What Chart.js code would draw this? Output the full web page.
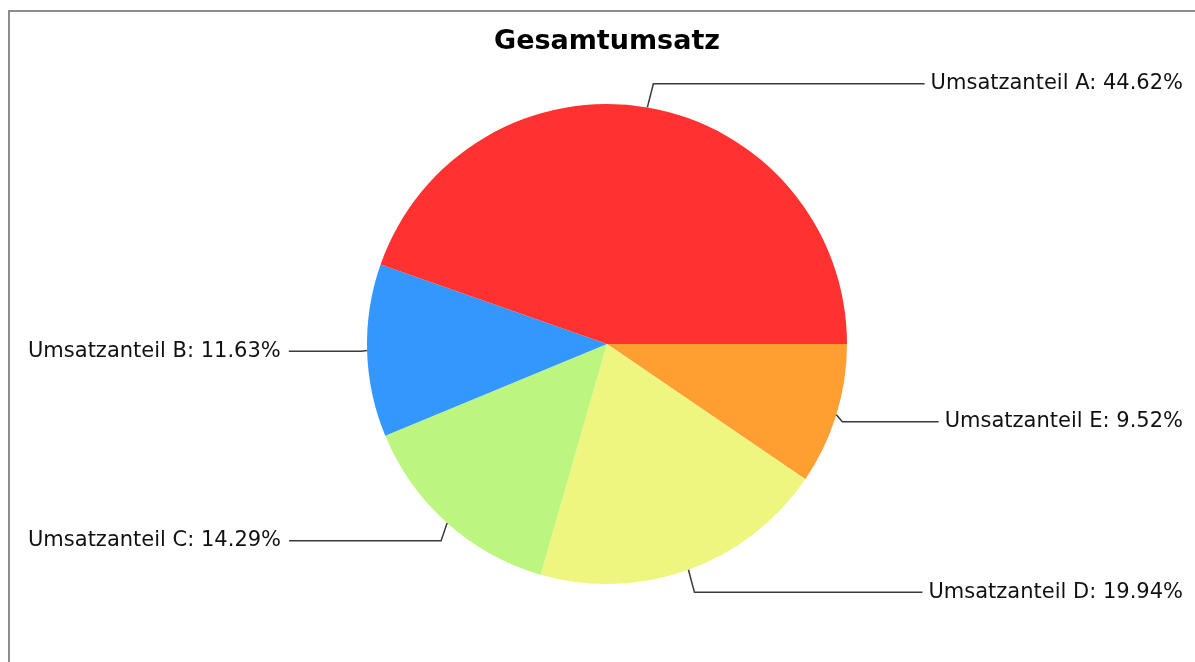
<!DOCTYPE html>
<html>
<head>
<meta charset="utf-8">
<script src="https://cdn.jsdelivr.net/npm/chart.js@4"></script>
<style>
  body { margin: 0; background: #fff; overflow: hidden; }
  #rahmen { position: absolute; left: 8px; top: 10px; width: 1400px; height: 900px;
            border-top: 2px solid #8c8c8c; border-left: 2px solid #8c8c8c; }
  #grafico { position: absolute; left: 0; top: 0; }
</style>
</head>
<body>
<div id="rahmen"></div>
<canvas id="grafico" width="1195" height="662"></canvas>
<script>
const kategorien = ['Umsatzanteil A', 'Umsatzanteil B', 'Umsatzanteil C', 'Umsatzanteil D', 'Umsatzanteil E'];
const anteile = [44.62, 11.63, 14.29, 19.94, 9.52];
const farben = ['#ff3131', '#3397fe', '#bcf67f', '#eef67f', '#ff9f31'];
const titel = 'Gesamtumsatz';

// Chart.js zeichnet im Uhrzeigersinn, das Original gegen den Uhrzeigersinn
const labelsRev = kategorien.slice().reverse();
const werteRev = anteile.slice().reverse();
const farbenRev = farben.slice().reverse();

const beschriftung = {
    id: 'beschriftung',
    afterDatasetsDraw(chart) {
        const ctx = chart.ctx;
        const meta = chart.getDatasetMeta(0);
        ctx.save();
        ctx.font = '21px "DejaVu Sans"';
        ctx.textBaseline = 'middle';
        ctx.strokeStyle = '#3a3a3a';
        ctx.fillStyle = '#111';
        ctx.lineWidth = 1.5;
        meta.data.forEach((arc, i) => {
            const mitte = (arc.startAngle + arc.endAngle) / 2;
            const r = arc.outerRadius;
            const cos = Math.cos(mitte), sin = Math.sin(mitte);
            const randX = arc.x + cos * r;
            const randY = arc.y + sin * r;
            const knickX = randX + (cos >= 0 ? 6 : -6);
            const knickY = arc.y + sin * (r + 24);
            const text = labelsRev[i] + ': ' + werteRev[i].toFixed(2) + '%';
            const breite = ctx.measureText(text).width;
            let endeX, textX;
            if (cos >= 0) {
                textX = 1183 - breite;
                endeX = textX - 6;
            } else {
                textX = 28;
                endeX = textX + breite + 8;
            }
            ctx.beginPath();
            ctx.moveTo(randX, randY);
            ctx.lineTo(knickX, knickY);
            ctx.lineTo(endeX, knickY);
            ctx.stroke();
            ctx.textAlign = 'left';
            ctx.fillText(text, textX, knickY);
        });
        ctx.restore();
    }
};

new Chart(document.getElementById('grafico').getContext('2d'), {
    type: 'pie',
    data: {
        labels: labelsRev,
        datasets: [{
            data: werteRev,
            backgroundColor: farbenRev,
            borderWidth: 0
        }]
    },
    options: {
        responsive: false,
        animation: false,
        devicePixelRatio: 1,
        rotation: 90,
        layout: { padding: { top: 0, bottom: 78, left: 367, right: 348 } },
        plugins: {
            legend: { display: false },
            tooltip: { enabled: false },
            title: {
                display: true,
                text: titel,
                color: '#000',
                font: { family: 'DejaVu Sans', size: 27, weight: 'bold' },
                padding: { top: 26, bottom: 45.6 }
            }
        }
    },
    plugins: [beschriftung]
});
</script>
</body>
</html>
